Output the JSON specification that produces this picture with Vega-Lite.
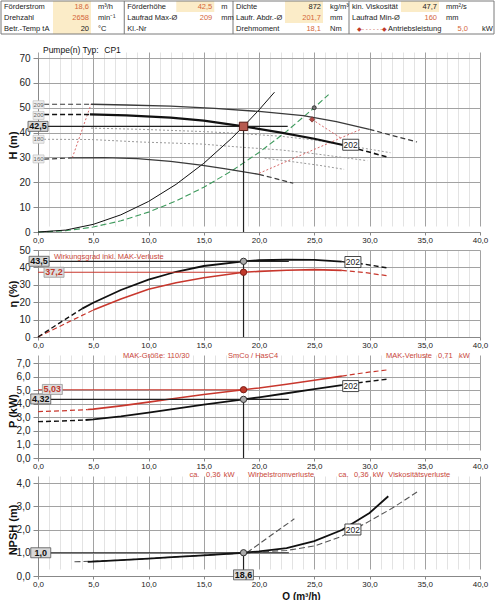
{
  "$schema": "https://vega.github.io/schema/vega-lite/v6.json",
  "padding": 0,
  "spacing": 18,
  "bounds": "flush",
  "config": {
    "view": {"stroke": null},
    "font": "Liberation Sans",
    "locale": {"number": {"decimal": ",", "thousands": ".", "grouping": [3], "currency": ["", " €"]}},
    "axis": {"labelFont": "Liberation Sans", "titleFont": "Liberation Sans", "labelColor": "#222", "titleColor": "#111"},
    "text": {"font": "Liberation Sans"}
  },
  "resolve": {"scale": {"x": "independent", "y": "independent"}},
  "datasets": {
    "hdr": [
      {"col": 0, "row": 1, "label": "Förderstrom", "value": "18,6", "unit": "m³/h", "hl": true, "calc": true},
      {"col": 0, "row": 2, "label": "Drehzahl", "value": "2658", "unit": "min⁻¹", "hl": true, "calc": true},
      {"col": 0, "row": 3, "label": "Betr.-Temp tA", "value": "20", "unit": "°C", "hl": true, "calc": false},
      {"col": 17, "row": 1, "label": "Förderhöhe", "value": "42,5", "unit": "m", "hl": true, "calc": true},
      {"col": 17, "row": 2, "label": "Laufrad Max-Ø", "value": "209", "unit": "mm", "hl": false, "calc": true},
      {"col": 17, "row": 3, "label": "Kl.-Nr", "value": "", "unit": "", "hl": false, "calc": false},
      {"col": 32, "row": 1, "label": "Dichte", "value": "872", "unit": "kg/m³", "hl": true, "calc": false},
      {"col": 32, "row": 2, "label": "Laufr. Abdr.-Ø", "value": "201,7", "unit": "mm", "hl": true, "calc": true},
      {"col": 32, "row": 3, "label": "Drehmoment", "value": "18,1", "unit": "Nm", "hl": false, "calc": true},
      {"col": 48, "row": 1, "label": "kin. Viskosität", "value": "47,7", "unit": "mm²/s", "hl": true, "calc": false},
      {"col": 48, "row": 2, "label": "Laufrad Min-Ø", "value": "160", "unit": "mm", "hl": false, "calc": true},
      {"col": 48, "row": 3, "label": "", "value": "", "unit": "", "hl": false, "calc": true, "legend": "Antriebsleistung", "lval": "5,0", "lunit": "kW"}
    ],
    "hq": [
      {"c": "209", "s": "209L", "part": "ext", "Q": 0.55, "v": 51.4},
      {"c": "209", "s": "209L", "part": "ext", "Q": 4.8, "v": 51.4},
      {"c": "209", "s": "209M", "part": "main", "Q": 4.8, "v": 51.4},
      {"c": "209", "s": "209M", "part": "main", "Q": 8, "v": 51.1},
      {"c": "209", "s": "209M", "part": "main", "Q": 12, "v": 50.6},
      {"c": "209", "s": "209M", "part": "main", "Q": 16, "v": 49.7},
      {"c": "209", "s": "209M", "part": "main", "Q": 20, "v": 48.5},
      {"c": "209", "s": "209M", "part": "main", "Q": 24, "v": 46.8},
      {"c": "209", "s": "209M", "part": "main", "Q": 27, "v": 44.4},
      {"c": "209", "s": "209M", "part": "main", "Q": 30, "v": 41.3},
      {"c": "209", "s": "209R", "part": "ext", "Q": 30, "v": 41.3},
      {"c": "209", "s": "209R", "part": "ext", "Q": 32, "v": 38.9},
      {"c": "209", "s": "209R", "part": "ext", "Q": 34.3, "v": 36.2},
      {"c": "202", "s": "202L", "part": "ext", "Q": 0.55, "v": 47.3},
      {"c": "202", "s": "202L", "part": "ext", "Q": 4.7, "v": 47.3},
      {"c": "202", "s": "202M", "part": "main", "Q": 4.7, "v": 47.3},
      {"c": "202", "s": "202M", "part": "main", "Q": 8, "v": 46.9},
      {"c": "202", "s": "202M", "part": "main", "Q": 12, "v": 46.0},
      {"c": "202", "s": "202M", "part": "main", "Q": 15, "v": 44.8},
      {"c": "202", "s": "202M", "part": "main", "Q": 18.6, "v": 42.5},
      {"c": "202", "s": "202M", "part": "main", "Q": 22, "v": 40.0},
      {"c": "202", "s": "202M", "part": "main", "Q": 25, "v": 37.5},
      {"c": "202", "s": "202M", "part": "main", "Q": 27.6, "v": 35.0},
      {"c": "202", "s": "202R", "part": "ext", "Q": 27.6, "v": 35.0},
      {"c": "202", "s": "202R", "part": "ext", "Q": 29.5, "v": 32.7},
      {"c": "202", "s": "202R", "part": "ext", "Q": 31.6, "v": 30.2},
      {"c": "160", "s": "160L", "part": "ext", "Q": 0.55, "v": 29.3},
      {"c": "160", "s": "160L", "part": "ext", "Q": 3.1, "v": 29.8},
      {"c": "160", "s": "160M", "part": "main", "Q": 3.1, "v": 29.8},
      {"c": "160", "s": "160M", "part": "main", "Q": 6, "v": 29.9},
      {"c": "160", "s": "160M", "part": "main", "Q": 9, "v": 29.5},
      {"c": "160", "s": "160M", "part": "main", "Q": 12, "v": 28.4},
      {"c": "160", "s": "160M", "part": "main", "Q": 14.75, "v": 26.9},
      {"c": "160", "s": "160M", "part": "main", "Q": 17, "v": 25.4},
      {"c": "160", "s": "160M", "part": "main", "Q": 20, "v": 23.2},
      {"c": "160", "s": "160R", "part": "ext", "Q": 20, "v": 23.2},
      {"c": "160", "s": "160R", "part": "ext", "Q": 21.5, "v": 21.5},
      {"c": "160", "s": "160R", "part": "ext", "Q": 23.1, "v": 19.6},
      {"c": "dot", "s": "D1", "part": "main", "Q": 4.8, "v": 41.8},
      {"c": "dot", "s": "D1", "part": "main", "Q": 9.3, "v": 41.3},
      {"c": "dot", "s": "D1", "part": "main", "Q": 15, "v": 40.4},
      {"c": "dot", "s": "D1", "part": "main", "Q": 18.4, "v": 39.6},
      {"c": "dot", "s": "D1", "part": "main", "Q": 22, "v": 38.5},
      {"c": "dot", "s": "D1", "part": "main", "Q": 25, "v": 37.0},
      {"c": "dot", "s": "D1", "part": "main", "Q": 28, "v": 34.8},
      {"c": "dot", "s": "D1", "part": "main", "Q": 31.9, "v": 31.9},
      {"c": "dot", "s": "D2", "part": "main", "Q": 0.55, "v": 37.3},
      {"c": "dot", "s": "D2", "part": "main", "Q": 4.8, "v": 37.2},
      {"c": "dot", "s": "D2", "part": "main", "Q": 9.3, "v": 36.2},
      {"c": "dot", "s": "D2", "part": "main", "Q": 14.75, "v": 35.4},
      {"c": "dot", "s": "D2", "part": "main", "Q": 18.4, "v": 34.1},
      {"c": "dot", "s": "D2", "part": "main", "Q": 22, "v": 33.0},
      {"c": "dot", "s": "D2", "part": "main", "Q": 25, "v": 31.5},
      {"c": "dot", "s": "D2", "part": "main", "Q": 29.8, "v": 28.7},
      {"c": "dot", "s": "D3", "part": "main", "Q": 20.5, "v": 29.7},
      {"c": "dot", "s": "D3", "part": "main", "Q": 23, "v": 28.3},
      {"c": "dot", "s": "D3", "part": "main", "Q": 25.5, "v": 26.8},
      {"c": "dot", "s": "D3", "part": "main", "Q": 27.7, "v": 25.2},
      {"c": "red", "s": "RL", "part": "main", "Q": 3.1, "v": 29.8},
      {"c": "red", "s": "RL", "part": "main", "Q": 4.8, "v": 51.4},
      {"c": "red", "s": "R1", "part": "main", "Q": 24.8, "v": 45.3},
      {"c": "red", "s": "R1", "part": "main", "Q": 27.4, "v": 37.8},
      {"c": "red", "s": "R2", "part": "main", "Q": 20.0, "v": 23.6},
      {"c": "red", "s": "R2", "part": "main", "Q": 29.2, "v": 41.3},
      {"c": "green", "s": "G", "part": "main", "Q": 0, "v": 0},
      {"c": "green", "s": "G", "part": "main", "Q": 2.5, "v": 0.5},
      {"c": "green", "s": "G", "part": "main", "Q": 5, "v": 2.0},
      {"c": "green", "s": "G", "part": "main", "Q": 7.5, "v": 4.5},
      {"c": "green", "s": "G", "part": "main", "Q": 10, "v": 8.0},
      {"c": "green", "s": "G", "part": "main", "Q": 12.5, "v": 12.5},
      {"c": "green", "s": "G", "part": "main", "Q": 15, "v": 18.0},
      {"c": "green", "s": "G", "part": "main", "Q": 17.5, "v": 24.5},
      {"c": "green", "s": "G", "part": "main", "Q": 20, "v": 32.0},
      {"c": "green", "s": "G", "part": "main", "Q": 22.5, "v": 40.5},
      {"c": "green", "s": "G", "part": "main", "Q": 25, "v": 50.0},
      {"c": "green", "s": "G", "part": "main", "Q": 26.3, "v": 55.3},
      {"c": "sys", "s": "S", "part": "main", "Q": 0, "v": 0},
      {"c": "sys", "s": "S", "part": "main", "Q": 2.5, "v": 0.77},
      {"c": "sys", "s": "S", "part": "main", "Q": 5, "v": 3.07},
      {"c": "sys", "s": "S", "part": "main", "Q": 7.5, "v": 6.91},
      {"c": "sys", "s": "S", "part": "main", "Q": 10, "v": 12.28},
      {"c": "sys", "s": "S", "part": "main", "Q": 12.5, "v": 19.19},
      {"c": "sys", "s": "S", "part": "main", "Q": 15, "v": 27.63},
      {"c": "sys", "s": "S", "part": "main", "Q": 17.5, "v": 37.61},
      {"c": "sys", "s": "S", "part": "main", "Q": 18.6, "v": 42.5},
      {"c": "sys", "s": "S", "part": "main", "Q": 20, "v": 49.12},
      {"c": "sys", "s": "S", "part": "main", "Q": 21.4, "v": 56.24}
    ],
    "eta": [
      {"c": "k", "s": "kL", "part": "ext", "Q": 0, "v": 0},
      {"c": "k", "s": "kL", "part": "ext", "Q": 2, "v": 8.3},
      {"c": "k", "s": "kL", "part": "ext", "Q": 4, "v": 16.3},
      {"c": "k", "s": "kM", "part": "main", "Q": 4, "v": 16.3},
      {"c": "k", "s": "kM", "part": "main", "Q": 5, "v": 19.7},
      {"c": "k", "s": "kM", "part": "main", "Q": 7.5, "v": 27.0},
      {"c": "k", "s": "kM", "part": "main", "Q": 10, "v": 33.0},
      {"c": "k", "s": "kM", "part": "main", "Q": 12.5, "v": 37.5},
      {"c": "k", "s": "kM", "part": "main", "Q": 15, "v": 40.8},
      {"c": "k", "s": "kM", "part": "main", "Q": 18.6, "v": 43.5},
      {"c": "k", "s": "kM", "part": "main", "Q": 20, "v": 44.1},
      {"c": "k", "s": "kM", "part": "main", "Q": 22.5, "v": 44.4},
      {"c": "k", "s": "kM", "part": "main", "Q": 25, "v": 44.3},
      {"c": "k", "s": "kM", "part": "main", "Q": 27.5, "v": 43.3},
      {"c": "k", "s": "kR", "part": "ext", "Q": 27.5, "v": 43.3},
      {"c": "k", "s": "kR", "part": "ext", "Q": 29.5, "v": 41.9},
      {"c": "k", "s": "kR", "part": "ext", "Q": 31.7, "v": 39.6},
      {"c": "r", "s": "rL", "part": "ext", "Q": 0, "v": 0},
      {"c": "r", "s": "rL", "part": "ext", "Q": 2.5, "v": 7.8},
      {"c": "r", "s": "rL", "part": "ext", "Q": 5, "v": 15.5},
      {"c": "r", "s": "rM", "part": "main", "Q": 5, "v": 15.5},
      {"c": "r", "s": "rM", "part": "main", "Q": 7.5, "v": 21.9},
      {"c": "r", "s": "rM", "part": "main", "Q": 10, "v": 27.4},
      {"c": "r", "s": "rM", "part": "main", "Q": 12.5, "v": 31.2},
      {"c": "r", "s": "rM", "part": "main", "Q": 15, "v": 34.1},
      {"c": "r", "s": "rM", "part": "main", "Q": 18.6, "v": 37.2},
      {"c": "r", "s": "rM", "part": "main", "Q": 20, "v": 37.7},
      {"c": "r", "s": "rM", "part": "main", "Q": 22.5, "v": 38.4},
      {"c": "r", "s": "rM", "part": "main", "Q": 25, "v": 38.7},
      {"c": "r", "s": "rM", "part": "main", "Q": 27.5, "v": 38.3},
      {"c": "r", "s": "rR", "part": "ext", "Q": 27.5, "v": 38.3},
      {"c": "r", "s": "rR", "part": "ext", "Q": 29.5, "v": 37.1},
      {"c": "r", "s": "rR", "part": "ext", "Q": 31.7, "v": 35.1}
    ],
    "pw": [
      {"c": "k", "s": "kL", "part": "ext", "Q": 0, "v": 2.68},
      {"c": "k", "s": "kL", "part": "ext", "Q": 2, "v": 2.72},
      {"c": "k", "s": "kL", "part": "ext", "Q": 4.3, "v": 2.8},
      {"c": "k", "s": "kM", "part": "main", "Q": 4.3, "v": 2.8},
      {"c": "k", "s": "kM", "part": "main", "Q": 5, "v": 2.84},
      {"c": "k", "s": "kM", "part": "main", "Q": 7.5, "v": 3.07},
      {"c": "k", "s": "kM", "part": "main", "Q": 10, "v": 3.35},
      {"c": "k", "s": "kM", "part": "main", "Q": 12.5, "v": 3.64},
      {"c": "k", "s": "kM", "part": "main", "Q": 15, "v": 3.93},
      {"c": "k", "s": "kM", "part": "main", "Q": 18.6, "v": 4.32},
      {"c": "k", "s": "kM", "part": "main", "Q": 20, "v": 4.47},
      {"c": "k", "s": "kM", "part": "main", "Q": 22.5, "v": 4.77},
      {"c": "k", "s": "kM", "part": "main", "Q": 25, "v": 5.07},
      {"c": "k", "s": "kM", "part": "main", "Q": 27.5, "v": 5.37},
      {"c": "k", "s": "kR", "part": "ext", "Q": 27.5, "v": 5.37},
      {"c": "k", "s": "kR", "part": "ext", "Q": 29.5, "v": 5.6},
      {"c": "k", "s": "kR", "part": "ext", "Q": 31.7, "v": 5.82},
      {"c": "r", "s": "rL", "part": "ext", "Q": 0, "v": 3.42},
      {"c": "r", "s": "rL", "part": "ext", "Q": 2, "v": 3.47},
      {"c": "r", "s": "rL", "part": "ext", "Q": 4.5, "v": 3.57},
      {"c": "r", "s": "rM", "part": "main", "Q": 4.5, "v": 3.57},
      {"c": "r", "s": "rM", "part": "main", "Q": 5, "v": 3.6},
      {"c": "r", "s": "rM", "part": "main", "Q": 7.5, "v": 3.84},
      {"c": "r", "s": "rM", "part": "main", "Q": 10, "v": 4.12},
      {"c": "r", "s": "rM", "part": "main", "Q": 12.5, "v": 4.4},
      {"c": "r", "s": "rM", "part": "main", "Q": 15, "v": 4.68},
      {"c": "r", "s": "rM", "part": "main", "Q": 18.6, "v": 5.03},
      {"c": "r", "s": "rM", "part": "main", "Q": 20, "v": 5.16},
      {"c": "r", "s": "rM", "part": "main", "Q": 22.5, "v": 5.44},
      {"c": "r", "s": "rM", "part": "main", "Q": 25, "v": 5.73},
      {"c": "r", "s": "rM", "part": "main", "Q": 27.5, "v": 6.03},
      {"c": "r", "s": "rR", "part": "ext", "Q": 27.5, "v": 6.03},
      {"c": "r", "s": "rR", "part": "ext", "Q": 29.5, "v": 6.28},
      {"c": "r", "s": "rR", "part": "ext", "Q": 31.7, "v": 6.5}
    ],
    "np": [
      {"c": "g", "s": "g1", "part": "ext", "Q": 3.3, "v": 0.61},
      {"c": "g", "s": "g1", "part": "ext", "Q": 7.5, "v": 0.68},
      {"c": "g", "s": "g1", "part": "ext", "Q": 10, "v": 0.75},
      {"c": "g", "s": "g1", "part": "ext", "Q": 12.5, "v": 0.82},
      {"c": "g", "s": "g1", "part": "ext", "Q": 15, "v": 0.89},
      {"c": "g", "s": "g1", "part": "ext", "Q": 18.6, "v": 0.99},
      {"c": "g", "s": "g1", "part": "ext", "Q": 20, "v": 1.03},
      {"c": "g", "s": "g1", "part": "ext", "Q": 22.5, "v": 1.1},
      {"c": "g", "s": "g1", "part": "ext", "Q": 25, "v": 1.29},
      {"c": "g", "s": "g1", "part": "ext", "Q": 27.5, "v": 1.71},
      {"c": "g", "s": "g1", "part": "ext", "Q": 30, "v": 2.36},
      {"c": "g", "s": "g1", "part": "ext", "Q": 32, "v": 2.9},
      {"c": "g", "s": "g1", "part": "ext", "Q": 34.3, "v": 3.61},
      {"c": "g", "s": "g2", "part": "ext", "Q": 18.9, "v": 1.0},
      {"c": "g", "s": "g2", "part": "ext", "Q": 21, "v": 1.72},
      {"c": "g", "s": "g2", "part": "ext", "Q": 23.2, "v": 2.46},
      {"c": "k", "s": "kM", "part": "main", "Q": 4.5, "v": 0.61},
      {"c": "k", "s": "kM", "part": "main", "Q": 7.5, "v": 0.68},
      {"c": "k", "s": "kM", "part": "main", "Q": 10, "v": 0.75},
      {"c": "k", "s": "kM", "part": "main", "Q": 12.5, "v": 0.82},
      {"c": "k", "s": "kM", "part": "main", "Q": 15, "v": 0.89},
      {"c": "k", "s": "kM", "part": "main", "Q": 18.6, "v": 1.0},
      {"c": "k", "s": "kM", "part": "main", "Q": 20, "v": 1.06},
      {"c": "k", "s": "kM", "part": "main", "Q": 22.5, "v": 1.2},
      {"c": "k", "s": "kM", "part": "main", "Q": 25, "v": 1.5},
      {"c": "k", "s": "kM", "part": "main", "Q": 27.5, "v": 1.98},
      {"c": "k", "s": "kM", "part": "main", "Q": 30, "v": 2.71},
      {"c": "k", "s": "kM", "part": "main", "Q": 31.7, "v": 3.43}
    ],
    "refs": [
      {"p": "H", "c": "k", "Q": 0, "Q2": 22.6, "v": 42.5, "v2": 42.5},
      {"p": "H", "c": "k", "Q": 18.6, "Q2": 18.6, "v": 0, "v2": 42.5},
      {"p": "E", "c": "k", "Q": 0, "Q2": 22.7, "v": 43.5, "v2": 43.5},
      {"p": "E", "c": "r", "Q": 0, "Q2": 18.6, "v": 37.2, "v2": 37.2},
      {"p": "E", "c": "k", "Q": 18.6, "Q2": 18.6, "v": 0, "v2": 43.5},
      {"p": "P", "c": "k", "Q": 0, "Q2": 22.7, "v": 4.32, "v2": 4.32},
      {"p": "P", "c": "r", "Q": 0, "Q2": 18.6, "v": 5.03, "v2": 5.03},
      {"p": "P", "c": "k", "Q": 18.6, "Q2": 18.6, "v": 0, "v2": 4.32},
      {"p": "N", "c": "k", "Q": 0, "Q2": 22.7, "v": 1.0, "v2": 1.0},
      {"p": "N", "c": "k", "Q": 18.6, "Q2": 18.6, "v": 0.1, "v2": 1.0}
    ],
    "pts": [
      {"p": "H", "kind": "op", "Q": 18.6, "v": 42.5},
      {"p": "H", "kind": "sys", "Q": 25, "v": 50},
      {"p": "H", "kind": "pow", "Q": 24.8, "v": 45.3},
      {"p": "E", "kind": "k", "Q": 18.6, "v": 43.5},
      {"p": "E", "kind": "r", "Q": 18.6, "v": 37.2},
      {"p": "P", "kind": "k", "Q": 18.6, "v": 4.32},
      {"p": "P", "kind": "r", "Q": 18.6, "v": 5.03},
      {"p": "N", "kind": "k", "Q": 18.6, "v": 1.0}
    ],
    "boxes": [
      {"p": "H", "kind": "dia", "Q": 0.05, "v": 51.2, "text": "209"},
      {"p": "H", "kind": "dia", "Q": 0.05, "v": 46.9, "text": "200"},
      {"p": "H", "kind": "dia", "Q": 0.05, "v": 37.3, "text": "180"},
      {"p": "H", "kind": "dia", "Q": 0.05, "v": 29.4, "text": "160"},
      {"p": "H", "kind": "val", "Q": 0, "v": 42.5, "text": "42,5"},
      {"p": "H", "kind": "crv", "Q": 28.3, "v": 35.1, "text": "202"},
      {"p": "E", "kind": "val", "Q": 0.1, "v": 43.5, "text": "43,5"},
      {"p": "E", "kind": "valr", "Q": 1.45, "v": 37.2, "text": "37,2"},
      {"p": "E", "kind": "crv", "Q": 28.5, "v": 43.1, "text": "202"},
      {"p": "P", "kind": "val", "Q": 0.25, "v": 4.35, "text": "4,32"},
      {"p": "P", "kind": "valr", "Q": 1.3, "v": 5.05, "text": "5,03"},
      {"p": "P", "kind": "crv", "Q": 28.3, "v": 5.3, "text": "202"},
      {"p": "N", "kind": "val", "Q": 0.25, "v": 1.0, "text": "1,0"},
      {"p": "N", "kind": "val", "Q": 18.6, "v": 0.05, "text": "18,6"},
      {"p": "N", "kind": "crv", "Q": 28.5, "v": 2.0, "text": "202"}
    ],
    "notes": [
      {"p": "H", "c": "k", "Q": 0.45, "v": 73.2, "text": "Pumpe(n) Typ:"},
      {"p": "H", "c": "k", "Q": 6.0, "v": 73.2, "text": "CP1"},
      {"p": "E", "c": "r", "Q": 1.45, "v": 46.1, "text": "Wirkungsgrad inkl. MAK-Verluste"},
      {"p": "P", "c": "r", "Q": 7.7, "v": 7.52, "text": "MAK-Größe: 110/30"},
      {"p": "P", "c": "r", "Q": 17.2, "v": 7.52, "text": "SmCo / HasC4"},
      {"p": "P", "c": "r", "Q": 31.5, "v": 7.52, "text": "MAK-Verluste"},
      {"p": "P", "c": "r", "Q": 36.2, "v": 7.52, "text": "0,71"},
      {"p": "P", "c": "r", "Q": 38.1, "v": 7.52, "text": "kW"},
      {"p": "N", "c": "r", "Q": 13.7, "v": 4.34, "text": "ca."},
      {"p": "N", "c": "r", "Q": 15.2, "v": 4.34, "text": "0,36"},
      {"p": "N", "c": "r", "Q": 16.8, "v": 4.34, "text": "kW"},
      {"p": "N", "c": "r", "Q": 19.0, "v": 4.34, "text": "Wirbelstromverluste"},
      {"p": "N", "c": "r", "Q": 27.2, "v": 4.34, "text": "ca."},
      {"p": "N", "c": "r", "Q": 28.6, "v": 4.34, "text": "0,36"},
      {"p": "N", "c": "r", "Q": 30.3, "v": 4.34, "text": "kW"},
      {"p": "N", "c": "r", "Q": 31.7, "v": 4.34, "text": "Viskositätsverluste"}
    ]
  },
  "vconcat": [
    {
      "width": 442,
      "height": 33,
      "data": {"name": "hdr"},
      "encoding": {
        "x": {"field": "col", "type": "quantitative", "scale": {"domain": [0, 68], "range": [-37, 456], "nice": false, "zero": false}, "axis": null}
      },
      "layer": [
        {
          "transform": [{"filter": "datum.hl"}],
          "mark": {"type": "point", "shape": "M5.2,-0.55H9.0V0.55H5.2Z", "size": 400, "filled": true, "color": "#fbecc8", "opacity": 1, "strokeWidth": 0},
          "encoding": {"y": {"field": "row", "type": "ordinal", "scale": {"type": "point", "domain": [1, 2, 3], "padding": 0.5}, "axis": null}}
        },
        {
          "data": {"values": [{"col": 0, "col2": 68}]},
          "mark": {"type": "rect", "fillOpacity": 0, "stroke": "#7a7a7a", "strokeWidth": 1},
          "encoding": {"x2": {"field": "col2"}}
        },
        {
          "data": {"values": [{"col": 17}, {"col": 32}, {"col": 48}]},
          "mark": {"type": "rule", "color": "#7a7a7a", "strokeWidth": 1},
          "encoding": {}
        },
        {
          "mark": {"type": "text", "align": "left", "dx": 3, "fontSize": 7.5, "color": "#222"},
          "encoding": {"y": {"field": "row", "type": "ordinal", "axis": null}, "text": {"field": "label"}}
        },
        {
          "mark": {"type": "text", "align": "right", "dx": 88, "fontSize": 7.5},
          "encoding": {
            "y": {"field": "row", "type": "ordinal", "axis": null},
            "text": {"field": "value"},
            "color": {"condition": {"test": "datum.calc", "value": "#d4673a"}, "value": "#222"}
          }
        },
        {
          "mark": {"type": "text", "align": "left", "dx": 97, "fontSize": 7.5, "color": "#222"},
          "encoding": {"y": {"field": "row", "type": "ordinal", "axis": null}, "text": {"field": "unit"}}
        },
        {
          "transform": [{"filter": "datum.legend"}],
          "mark": {"type": "text", "align": "left", "dx": 39, "fontSize": 7.5, "color": "#222"},
          "encoding": {"y": {"field": "row", "type": "ordinal", "axis": null}, "text": {"field": "legend"}}
        },
        {
          "transform": [{"filter": "datum.legend"}],
          "mark": {"type": "text", "align": "right", "dx": 119, "fontSize": 7.5, "color": "#d4673a"},
          "encoding": {"y": {"field": "row", "type": "ordinal", "axis": null}, "text": {"field": "lval"}}
        },
        {
          "transform": [{"filter": "datum.legend"}],
          "mark": {"type": "text", "align": "left", "dx": 133, "fontSize": 7.5, "color": "#222"},
          "encoding": {"y": {"field": "row", "type": "ordinal", "axis": null}, "text": {"field": "lunit"}}
        },
        {
          "transform": [{"filter": "datum.legend"}],
          "mark": {"type": "text", "align": "left", "dx": 8, "fontSize": 6, "color": "#c0392b"},
          "encoding": {"y": {"field": "row", "type": "ordinal", "axis": null}, "text": {"value": "◆- - - - - -◆"}}
        }
      ]
    },
    {
      "width": 442,
      "height": 180,
      "encoding": {
        "x": {
          "field": "Q", "type": "quantitative",
          "scale": {"domain": [0, 40], "nice": false, "zero": false},
          "axis": {
            "values": [0,1,2,3,4,5,6,7,8,9,10,11,12,13,14,15,16,17,18,19,20,21,22,23,24,25,26,27,28,29,30,31,32,33,34,35,36,37,38,39,40],
            "format": ".1f",
            "labelExpr": "datum.value % 5 === 0 ? replace(datum.label, '.', ',') : ''",
            "labelFontSize": 8, "labelFlush": false, "labelOverlap": false, "labelPadding": 1,
            "tickSize": 3,
            "tickOpacity": {"condition": {"test": "datum.value % 5 === 0", "value": 1}, "value": 0},
            "tickColor": "#888",
            "gridColor": {"condition": {"test": "datum.value % 5 === 0", "value": "#a2a2a2"}, "value": "#e3e3e3"},
            "domainColor": "#888",
            "title": null
          }
        },
        "y": {
          "field": "v", "type": "quantitative",
          "scale": {"domain": [0, 70], "nice": false, "zero": false, "range": [180, 6]},
          "axis": {
            "values": [0, 10, 20, 30, 40, 50, 60, 70], "format": "d",
            "labelFontSize": 10, "labelPadding": 3, "tickSize": 5, "tickColor": "#888",
            "gridColor": "#a2a2a2", "domainColor": "#888",
            "title": "H (m)", "titleX": -25, "titleY": 93, "titleBaseline": "middle",
            "titleFontSize": 11, "titleFontWeight": "bold"
          }
        }
      },
      "layer": [
        {"data": {"name": "hq"}, "transform": [{"filter": "datum.c === 'dot'"}], "mark": {"type": "line", "color": "#9a9a9a", "strokeWidth": 1, "strokeDash": [2, 2]}, "encoding": {"detail": {"field": "s"}}},
        {"data": {"name": "hq"}, "transform": [{"filter": "datum.c === 'red'"}], "mark": {"type": "line", "color": "#d86a6a", "strokeWidth": 1, "strokeDash": [2, 2]}, "encoding": {"detail": {"field": "s"}}},
        {"data": {"name": "hq"}, "transform": [{"filter": "datum.c === 'green'"}], "mark": {"type": "line", "color": "#3d9a5c", "strokeWidth": 1.1, "strokeDash": [6, 3]}, "encoding": {"detail": {"field": "s"}}},
        {"data": {"name": "hq"}, "transform": [{"filter": "datum.c === 'sys'"}], "mark": {"type": "line", "color": "#111", "strokeWidth": 1}, "encoding": {"detail": {"field": "s"}}},
        {"data": {"name": "hq"}, "transform": [{"filter": "(datum.c === '209' || datum.c === '160') && datum.part === 'main'"}], "mark": {"type": "line", "color": "#3a3a3a", "strokeWidth": 1.3}, "encoding": {"detail": {"field": "s"}}},
        {"data": {"name": "hq"}, "transform": [{"filter": "(datum.c === '209' || datum.c === '160') && datum.part === 'ext'"}], "mark": {"type": "line", "color": "#3a3a3a", "strokeWidth": 1.2, "strokeDash": [5, 3]}, "encoding": {"detail": {"field": "s"}}},
        {"data": {"name": "hq"}, "transform": [{"filter": "datum.c === '202' && datum.part === 'ext'"}], "mark": {"type": "line", "color": "#111", "strokeWidth": 1.6, "strokeDash": [5, 3]}, "encoding": {"detail": {"field": "s"}}},
        {"data": {"name": "hq"}, "transform": [{"filter": "datum.c === '202' && datum.part === 'main'"}], "mark": {"type": "line", "color": "#111", "strokeWidth": 2.2}, "encoding": {"detail": {"field": "s"}}},
        {"data": {"name": "refs"}, "transform": [{"filter": "datum.p === 'H'"}], "mark": {"type": "rule", "color": "#222", "strokeWidth": 1.2}, "encoding": {"x2": {"field": "Q2"}, "y2": {"field": "v2"}}},
        {"data": {"name": "pts"}, "transform": [{"filter": "datum.p === 'H' && datum.kind === 'op'"}], "mark": {"type": "point", "shape": "square", "size": 70, "filled": true, "fill": "#b65a50", "stroke": "#5a1d18", "strokeWidth": 1, "opacity": 1}, "encoding": {}},
        {"data": {"name": "pts"}, "transform": [{"filter": "datum.p === 'H' && datum.kind === 'sys'"}], "mark": {"type": "point", "shape": "circle", "size": 16, "filled": true, "fill": "#777", "stroke": "#222", "strokeWidth": 0.8, "opacity": 1}, "encoding": {}},
        {"data": {"name": "pts"}, "transform": [{"filter": "datum.p === 'H' && datum.kind === 'pow'"}], "mark": {"type": "point", "shape": "diamond", "size": 30, "filled": true, "fill": "#b14a45", "stroke": "#6a2522", "strokeWidth": 0.6, "opacity": 1}, "encoding": {}},
        {"data": {"name": "boxes"}, "transform": [{"filter": "datum.p === 'H' && datum.kind === 'dia'"}], "mark": {"type": "point", "shape": "M-0.55,-0.4H0.55V0.4H-0.55Z", "size": 400, "filled": true, "fill": "#eeeeee", "stroke": "#bbbbbb", "strokeWidth": 0.6, "opacity": 1}, "encoding": {}},
        {"data": {"name": "boxes"}, "transform": [{"filter": "datum.p === 'H' && datum.kind === 'dia'"}], "mark": {"type": "text", "fontSize": 6, "color": "#666"}, "encoding": {"text": {"field": "text"}}},
        {"data": {"name": "boxes"}, "transform": [{"filter": "datum.p === 'H' && datum.kind === 'val'"}], "mark": {"type": "point", "shape": "M-1,-0.5H1V0.5H-1Z", "size": 400, "filled": true, "fill": "#d8d8d8", "stroke": "#555", "strokeWidth": 0.8, "opacity": 1}, "encoding": {}},
        {"data": {"name": "boxes"}, "transform": [{"filter": "datum.p === 'H' && datum.kind === 'val'"}], "mark": {"type": "text", "fontSize": 9, "fontWeight": "bold", "color": "#111"}, "encoding": {"text": {"field": "text"}}},
        {"data": {"name": "boxes"}, "transform": [{"filter": "datum.p === 'H' && datum.kind === 'crv'"}], "mark": {"type": "point", "shape": "M-0.8,-0.55H0.8V0.55H-0.8Z", "size": 400, "filled": true, "fill": "#ffffff", "stroke": "#333", "strokeWidth": 0.9, "opacity": 1}, "encoding": {}},
        {"data": {"name": "boxes"}, "transform": [{"filter": "datum.p === 'H' && datum.kind === 'crv'"}], "mark": {"type": "text", "fontSize": 8.5, "color": "#222"}, "encoding": {"text": {"field": "text"}}},
        {"data": {"name": "notes"}, "transform": [{"filter": "datum.p === 'H'"}], "mark": {"type": "text", "align": "left", "fontSize": 8.5, "color": "#111"}, "encoding": {"text": {"field": "text"}}}
      ]
    },
    {
      "width": 442,
      "height": 87,
      "encoding": {
        "x": {
          "field": "Q", "type": "quantitative",
          "scale": {"domain": [0, 40], "nice": false, "zero": false},
          "axis": {
            "values": [0,1,2,3,4,5,6,7,8,9,10,11,12,13,14,15,16,17,18,19,20,21,22,23,24,25,26,27,28,29,30,31,32,33,34,35,36,37,38,39,40],
            "format": ".1f",
            "labelExpr": "datum.value % 5 === 0 ? replace(datum.label, '.', ',') : ''",
            "labelFontSize": 8, "labelFlush": false, "labelOverlap": false, "labelPadding": 1,
            "tickSize": 3,
            "tickOpacity": {"condition": {"test": "datum.value % 5 === 0", "value": 1}, "value": 0},
            "tickColor": "#888",
            "gridColor": {"condition": {"test": "datum.value % 5 === 0", "value": "#a2a2a2"}, "value": "#e3e3e3"},
            "domainColor": "#888",
            "title": null
          }
        },
        "y": {
          "field": "v", "type": "quantitative",
          "scale": {"domain": [0, 50], "nice": false, "zero": false},
          "axis": {
            "values": [0, 10, 20, 30, 40, 50], "format": "d",
            "labelFontSize": 10, "labelPadding": 3, "tickSize": 5, "tickColor": "#888",
            "gridColor": "#a2a2a2", "domainColor": "#888",
            "title": "η (%)", "titleX": -25, "titleY": 43.5, "titleBaseline": "middle",
            "titleFontSize": 11, "titleFontWeight": "bold"
          }
        }
      },
      "layer": [
        {"data": {"name": "eta"}, "transform": [{"filter": "datum.c === 'r' && datum.part === 'ext'"}], "mark": {"type": "line", "color": "#c8372d", "strokeWidth": 1.2, "strokeDash": [5, 3]}, "encoding": {"detail": {"field": "s"}}},
        {"data": {"name": "eta"}, "transform": [{"filter": "datum.c === 'r' && datum.part === 'main'"}], "mark": {"type": "line", "color": "#c8372d", "strokeWidth": 1.6}, "encoding": {"detail": {"field": "s"}}},
        {"data": {"name": "eta"}, "transform": [{"filter": "datum.c === 'k' && datum.part === 'ext'"}], "mark": {"type": "line", "color": "#111", "strokeWidth": 1.4, "strokeDash": [5, 3]}, "encoding": {"detail": {"field": "s"}}},
        {"data": {"name": "eta"}, "transform": [{"filter": "datum.c === 'k' && datum.part === 'main'"}], "mark": {"type": "line", "color": "#111", "strokeWidth": 1.8}, "encoding": {"detail": {"field": "s"}}},
        {"data": {"name": "refs"}, "transform": [{"filter": "datum.p === 'E' && datum.c === 'k'"}], "mark": {"type": "rule", "color": "#222", "strokeWidth": 1.2}, "encoding": {"x2": {"field": "Q2"}, "y2": {"field": "v2"}}},
        {"data": {"name": "refs"}, "transform": [{"filter": "datum.p === 'E' && datum.c === 'r'"}], "mark": {"type": "rule", "color": "#c8372d", "strokeWidth": 1.2}, "encoding": {"x2": {"field": "Q2"}, "y2": {"field": "v2"}}},
        {"data": {"name": "pts"}, "transform": [{"filter": "datum.p === 'E' && datum.kind === 'k'"}], "mark": {"type": "point", "shape": "circle", "size": 40, "filled": true, "fill": "#aaaaaa", "stroke": "#333", "strokeWidth": 1, "opacity": 1}, "encoding": {}},
        {"data": {"name": "pts"}, "transform": [{"filter": "datum.p === 'E' && datum.kind === 'r'"}], "mark": {"type": "point", "shape": "circle", "size": 40, "filled": true, "fill": "#c0392b", "stroke": "#7a1f17", "strokeWidth": 1, "opacity": 1}, "encoding": {}},
        {"data": {"name": "boxes"}, "transform": [{"filter": "datum.p === 'E' && datum.kind === 'val'"}], "mark": {"type": "point", "shape": "M-1,-0.5H1V0.5H-1Z", "size": 400, "filled": true, "fill": "#d8d8d8", "stroke": "#555", "strokeWidth": 0.8, "opacity": 1}, "encoding": {}},
        {"data": {"name": "boxes"}, "transform": [{"filter": "datum.p === 'E' && datum.kind === 'val'"}], "mark": {"type": "text", "fontSize": 9, "fontWeight": "bold", "color": "#111"}, "encoding": {"text": {"field": "text"}}},
        {"data": {"name": "boxes"}, "transform": [{"filter": "datum.p === 'E' && datum.kind === 'valr'"}], "mark": {"type": "point", "shape": "M-1,-0.5H1V0.5H-1Z", "size": 400, "filled": true, "fill": "#dcdcdc", "stroke": "#999", "strokeWidth": 0.8, "opacity": 1}, "encoding": {}},
        {"data": {"name": "boxes"}, "transform": [{"filter": "datum.p === 'E' && datum.kind === 'valr'"}], "mark": {"type": "text", "fontSize": 9, "fontWeight": "bold", "color": "#c0392b"}, "encoding": {"text": {"field": "text"}}},
        {"data": {"name": "boxes"}, "transform": [{"filter": "datum.p === 'E' && datum.kind === 'crv'"}], "mark": {"type": "point", "shape": "M-0.8,-0.55H0.8V0.55H-0.8Z", "size": 400, "filled": true, "fill": "#ffffff", "stroke": "#333", "strokeWidth": 0.9, "opacity": 1}, "encoding": {}},
        {"data": {"name": "boxes"}, "transform": [{"filter": "datum.p === 'E' && datum.kind === 'crv'"}], "mark": {"type": "text", "fontSize": 8.5, "color": "#222"}, "encoding": {"text": {"field": "text"}}},
        {"data": {"name": "notes"}, "transform": [{"filter": "datum.p === 'E'"}], "mark": {"type": "text", "align": "left", "fontSize": 7.5, "color": "#c9473a"}, "encoding": {"text": {"field": "text"}}}
      ]
    },
    {
      "width": 442,
      "height": 103,
      "encoding": {
        "x": {
          "field": "Q", "type": "quantitative",
          "scale": {"domain": [0, 40], "nice": false, "zero": false},
          "axis": {
            "values": [0,1,2,3,4,5,6,7,8,9,10,11,12,13,14,15,16,17,18,19,20,21,22,23,24,25,26,27,28,29,30,31,32,33,34,35,36,37,38,39,40],
            "format": ".1f",
            "labelExpr": "datum.value % 5 === 0 ? replace(datum.label, '.', ',') : ''",
            "labelFontSize": 8, "labelFlush": false, "labelOverlap": false, "labelPadding": 1,
            "tickSize": 3,
            "tickOpacity": {"condition": {"test": "datum.value % 5 === 0", "value": 1}, "value": 0},
            "tickColor": "#888",
            "gridColor": {"condition": {"test": "datum.value % 5 === 0", "value": "#a2a2a2"}, "value": "#e3e3e3"},
            "domainColor": "#888",
            "title": null
          }
        },
        "y": {
          "field": "v", "type": "quantitative",
          "scale": {"domain": [0, 7], "nice": false, "zero": false, "range": [103, 8]},
          "axis": {
            "values": [0, 1, 2, 3, 4, 5, 6, 7], "format": ".1f",
            "labelExpr": "replace(datum.label, '.', ',')",
            "labelFontSize": 10, "labelPadding": 3, "tickSize": 5, "tickColor": "#888",
            "gridColor": "#a2a2a2", "domainColor": "#888",
            "title": "P (kW)", "titleX": -25, "titleY": 55.5, "titleBaseline": "middle",
            "titleFontSize": 11, "titleFontWeight": "bold"
          }
        }
      },
      "layer": [
        {"data": {"name": "pw"}, "transform": [{"filter": "datum.c === 'r' && datum.part === 'ext'"}], "mark": {"type": "line", "color": "#c8372d", "strokeWidth": 1.2, "strokeDash": [5, 3]}, "encoding": {"detail": {"field": "s"}}},
        {"data": {"name": "pw"}, "transform": [{"filter": "datum.c === 'r' && datum.part === 'main'"}], "mark": {"type": "line", "color": "#c8372d", "strokeWidth": 1.6}, "encoding": {"detail": {"field": "s"}}},
        {"data": {"name": "pw"}, "transform": [{"filter": "datum.c === 'k' && datum.part === 'ext'"}], "mark": {"type": "line", "color": "#111", "strokeWidth": 1.4, "strokeDash": [5, 3]}, "encoding": {"detail": {"field": "s"}}},
        {"data": {"name": "pw"}, "transform": [{"filter": "datum.c === 'k' && datum.part === 'main'"}], "mark": {"type": "line", "color": "#111", "strokeWidth": 1.8}, "encoding": {"detail": {"field": "s"}}},
        {"data": {"name": "refs"}, "transform": [{"filter": "datum.p === 'P' && datum.c === 'k'"}], "mark": {"type": "rule", "color": "#222", "strokeWidth": 1.2}, "encoding": {"x2": {"field": "Q2"}, "y2": {"field": "v2"}}},
        {"data": {"name": "refs"}, "transform": [{"filter": "datum.p === 'P' && datum.c === 'r'"}], "mark": {"type": "rule", "color": "#c8372d", "strokeWidth": 1.2}, "encoding": {"x2": {"field": "Q2"}, "y2": {"field": "v2"}}},
        {"data": {"name": "pts"}, "transform": [{"filter": "datum.p === 'P' && datum.kind === 'k'"}], "mark": {"type": "point", "shape": "circle", "size": 40, "filled": true, "fill": "#aaaaaa", "stroke": "#333", "strokeWidth": 1, "opacity": 1}, "encoding": {}},
        {"data": {"name": "pts"}, "transform": [{"filter": "datum.p === 'P' && datum.kind === 'r'"}], "mark": {"type": "point", "shape": "circle", "size": 40, "filled": true, "fill": "#c0392b", "stroke": "#7a1f17", "strokeWidth": 1, "opacity": 1}, "encoding": {}},
        {"data": {"name": "boxes"}, "transform": [{"filter": "datum.p === 'P' && datum.kind === 'val'"}], "mark": {"type": "point", "shape": "M-1,-0.5H1V0.5H-1Z", "size": 400, "filled": true, "fill": "#d8d8d8", "stroke": "#555", "strokeWidth": 0.8, "opacity": 1}, "encoding": {}},
        {"data": {"name": "boxes"}, "transform": [{"filter": "datum.p === 'P' && datum.kind === 'val'"}], "mark": {"type": "text", "fontSize": 9, "fontWeight": "bold", "color": "#111"}, "encoding": {"text": {"field": "text"}}},
        {"data": {"name": "boxes"}, "transform": [{"filter": "datum.p === 'P' && datum.kind === 'valr'"}], "mark": {"type": "point", "shape": "M-1,-0.5H1V0.5H-1Z", "size": 400, "filled": true, "fill": "#dcdcdc", "stroke": "#999", "strokeWidth": 0.8, "opacity": 1}, "encoding": {}},
        {"data": {"name": "boxes"}, "transform": [{"filter": "datum.p === 'P' && datum.kind === 'valr'"}], "mark": {"type": "text", "fontSize": 9, "fontWeight": "bold", "color": "#c0392b"}, "encoding": {"text": {"field": "text"}}},
        {"data": {"name": "boxes"}, "transform": [{"filter": "datum.p === 'P' && datum.kind === 'crv'"}], "mark": {"type": "point", "shape": "M-0.8,-0.55H0.8V0.55H-0.8Z", "size": 400, "filled": true, "fill": "#ffffff", "stroke": "#333", "strokeWidth": 0.9, "opacity": 1}, "encoding": {}},
        {"data": {"name": "boxes"}, "transform": [{"filter": "datum.p === 'P' && datum.kind === 'crv'"}], "mark": {"type": "text", "fontSize": 8.5, "color": "#222"}, "encoding": {"text": {"field": "text"}}},
        {"data": {"name": "notes"}, "transform": [{"filter": "datum.p === 'P'"}], "mark": {"type": "text", "align": "left", "fontSize": 7.5, "color": "#c9473a"}, "encoding": {"text": {"field": "text"}}}
      ]
    },
    {
      "width": 442,
      "height": 100,
      "encoding": {
        "x": {
          "field": "Q", "type": "quantitative",
          "scale": {"domain": [0, 40], "nice": false, "zero": false},
          "axis": {
            "values": [0,1,2,3,4,5,6,7,8,9,10,11,12,13,14,15,16,17,18,19,20,21,22,23,24,25,26,27,28,29,30,31,32,33,34,35,36,37,38,39,40],
            "format": ".1f",
            "labelExpr": "datum.value % 5 === 0 ? replace(datum.label, '.', ',') : ''",
            "labelFontSize": 8, "labelFlush": false, "labelOverlap": false, "labelPadding": 1,
            "tickSize": 3,
            "tickOpacity": {"condition": {"test": "datum.value % 5 === 0", "value": 1}, "value": 0},
            "tickColor": "#888",
            "gridColor": {"condition": {"test": "datum.value % 5 === 0", "value": "#a2a2a2"}, "value": "#e3e3e3"},
            "domainColor": "#888",
            "title": "Q (m³/h)", "titleX": 263, "titleY": 20, "titleBaseline": "middle",
            "titleFontSize": 10, "titleFontWeight": "bold"
          }
        },
        "y": {
          "field": "v", "type": "quantitative",
          "scale": {"domain": [0, 4], "nice": false, "zero": false, "range": [100, 7]},
          "axis": {
            "values": [0, 1, 2, 3, 4], "format": ".1f",
            "labelExpr": "replace(datum.label, '.', ',')",
            "labelFontSize": 10, "labelPadding": 3, "tickSize": 5, "tickColor": "#888",
            "gridColor": "#a2a2a2", "domainColor": "#888",
            "title": "NPSH (m)", "titleX": -25, "titleY": 53.5, "titleBaseline": "middle",
            "titleFontSize": 11, "titleFontWeight": "bold"
          }
        }
      },
      "layer": [
        {"data": {"name": "np"}, "transform": [{"filter": "datum.c === 'g'"}], "mark": {"type": "line", "color": "#555", "strokeWidth": 1.1, "strokeDash": [6, 3]}, "encoding": {"detail": {"field": "s"}}},
        {"data": {"name": "np"}, "transform": [{"filter": "datum.c === 'k'"}], "mark": {"type": "line", "color": "#111", "strokeWidth": 1.8}, "encoding": {"detail": {"field": "s"}}},
        {"data": {"name": "refs"}, "transform": [{"filter": "datum.p === 'N'"}], "mark": {"type": "rule", "color": "#222", "strokeWidth": 1.2}, "encoding": {"x2": {"field": "Q2"}, "y2": {"field": "v2"}}},
        {"data": {"name": "pts"}, "transform": [{"filter": "datum.p === 'N'"}], "mark": {"type": "point", "shape": "circle", "size": 40, "filled": true, "fill": "#aaaaaa", "stroke": "#333", "strokeWidth": 1, "opacity": 1}, "encoding": {}},
        {"data": {"name": "boxes"}, "transform": [{"filter": "datum.p === 'N' && datum.kind === 'val'"}], "mark": {"type": "point", "shape": "M-1,-0.5H1V0.5H-1Z", "size": 400, "filled": true, "fill": "#d8d8d8", "stroke": "#555", "strokeWidth": 0.8, "opacity": 1}, "encoding": {}},
        {"data": {"name": "boxes"}, "transform": [{"filter": "datum.p === 'N' && datum.kind === 'val'"}], "mark": {"type": "text", "fontSize": 9, "fontWeight": "bold", "color": "#111"}, "encoding": {"text": {"field": "text"}}},
        {"data": {"name": "boxes"}, "transform": [{"filter": "datum.p === 'N' && datum.kind === 'crv'"}], "mark": {"type": "point", "shape": "M-0.8,-0.55H0.8V0.55H-0.8Z", "size": 400, "filled": true, "fill": "#ffffff", "stroke": "#333", "strokeWidth": 0.9, "opacity": 1}, "encoding": {}},
        {"data": {"name": "boxes"}, "transform": [{"filter": "datum.p === 'N' && datum.kind === 'crv'"}], "mark": {"type": "text", "fontSize": 8.5, "color": "#222"}, "encoding": {"text": {"field": "text"}}},
        {"data": {"name": "notes"}, "transform": [{"filter": "datum.p === 'N'"}], "mark": {"type": "text", "align": "left", "fontSize": 7.5, "color": "#c9473a"}, "encoding": {"text": {"field": "text"}}}
      ]
    }
  ]
}
